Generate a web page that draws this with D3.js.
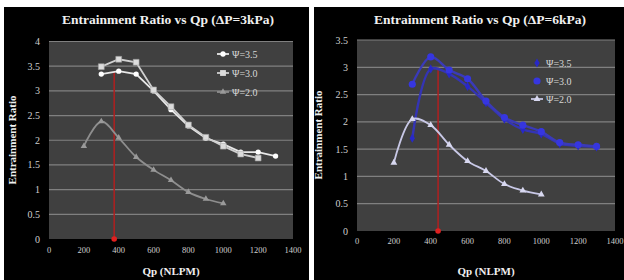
<!DOCTYPE html>
<html>
<head>
<meta charset="utf-8">
<script src="https://cdn.jsdelivr.net/npm/d3@7"></script>
<style>
  body { margin: 0; background: #fff; }
  svg { display: block; }
</style>
</head>
<body>
<svg id="chart" width="624" height="280"></svg>
<script>
// Qp values (NLPM)
const qpHigh = [300, 400, 500, 600, 700, 800, 900, 1000, 1100, 1200, 1300];
const qpLow = [200, 300, 400, 500, 600, 700, 800, 900, 1000];

// dP = 3 kPa
const left35 = [3.34, 3.40, 3.34, 3.00, 2.62, 2.29, 2.04, 1.92, 1.76, 1.76, 1.68];
const left30 = [3.49, 3.64, 3.58, 3.02, 2.68, 2.31, 2.06, 1.88, 1.72, 1.64];
const left20 = [1.88, 2.38, 2.05, 1.66, 1.40, 1.19, 0.95, 0.81, 0.72];

// dP = 6 kPa
const right35 = [1.70, 2.97, 2.88, 2.65, 2.35, 2.05, 1.86, 1.78, 1.60, 1.56, 1.54];
const right30 = [2.69, 3.19, 2.95, 2.79, 2.38, 2.08, 1.94, 1.82, 1.62, 1.58, 1.55];
const right20 = [1.25, 2.05, 1.94, 1.58, 1.28, 1.10, 0.86, 0.74, 0.67];

const xTicks = [0, 200, 400, 600, 800, 1000, 1200, 1400];
const yTicksLeft = [0, 0.5, 1, 1.5, 2, 2.5, 3, 3.5, 4];
const yTicksRight = [0, 0.5, 1, 1.5, 2, 2.5, 3, 3.5];
const legendLabels = ["\u03A8=3.5", "\u03A8=3.0", "\u03A8=2.0"];

// red marker lines [Qp, value]
const markLeft = [374, 3.40];
const markRight = [440, 2.99];

const svg = d3.select("#chart");
const serif = "'Liberation Serif', 'DejaVu Serif', serif";

function drawChart(cfg) {
  const g = svg.append("g");

  // black panel
  g.append("rect")
    .attr("x", cfg.panel[0]).attr("y", cfg.panel[1])
    .attr("width", cfg.panel[2]).attr("height", cfg.panel[3])
    .attr("fill", "#000");

  const x = d3.scaleLinear().domain([0, 1400]).range([cfg.plot.x0, cfg.plot.x1]);
  const y = d3.scaleLinear().domain([0, cfg.yMax]).range([cfg.plot.y0, cfg.plot.y1]);

  // plot area
  g.append("rect")
    .attr("x", x(0)).attr("y", y(cfg.yMax))
    .attr("width", x(1400) - x(0)).attr("height", y(0) - y(cfg.yMax))
    .attr("fill", "#404040");

  // gridlines
  g.selectAll(".grid").data(cfg.yTicks.filter(d => d > 0)).enter()
    .append("line")
    .attr("x1", x(0)).attr("x2", x(1400))
    .attr("y1", d => y(d)).attr("y2", d => y(d))
    .attr("stroke", "#808080").attr("stroke-width", 1.2);

  // y tick labels
  g.selectAll(".yl").data(cfg.yTicks).enter()
    .append("text")
    .attr("x", x(0) - 9).attr("y", d => y(d) + 3.5)
    .attr("text-anchor", "end")
    .attr("font-family", serif).attr("font-size", 10)
    .attr("fill", "#cfcfcf")
    .text(d => d);

  // x tick labels
  g.selectAll(".xl").data(xTicks).enter()
    .append("text")
    .attr("x", d => x(d)).attr("y", y(0) + cfg.xLabelDy)
    .attr("text-anchor", "middle")
    .attr("font-family", serif).attr("font-size", 8.5)
    .attr("fill", "#cfcfcf")
    .text(d => d);

  // titles
  g.append("text")
    .attr("x", cfg.titleX).attr("y", 24)
    .attr("text-anchor", "middle")
    .attr("font-family", serif).attr("font-weight", "bold").attr("font-size", 13.5)
    .attr("fill", "#f0f0f0")
    .text(cfg.title);

  g.append("text")
    .attr("x", (x(0) + x(1400)) / 2).attr("y", 275)
    .attr("text-anchor", "middle")
    .attr("font-family", serif).attr("font-weight", "bold").attr("font-size", 11)
    .attr("fill", "#f0f0f0")
    .text("Qp (NLPM)");

  g.append("text")
    .attr("transform", `translate(${cfg.yTitleX},${cfg.yTitleY}) rotate(-90)`)
    .attr("text-anchor", "middle")
    .attr("font-family", serif).attr("font-weight", "bold").attr("font-size", 11)
    .attr("fill", "#f0f0f0")
    .text("Entrainment Ratio");

  // red marker line
  g.append("line")
    .attr("x1", x(cfg.mark[0])).attr("x2", x(cfg.mark[0]))
    .attr("y1", y(0)).attr("y2", y(cfg.mark[1]))
    .attr("stroke", "#b02020").attr("stroke-width", 1.5);
  g.append("circle")
    .attr("cx", x(cfg.mark[0])).attr("cy", y(0)).attr("r", 2.8)
    .attr("fill", "#e02020");

  // series
  cfg.series.forEach(s => {
    const pts = s.values.map((v, i) => [s.qp[i], v]);
    const line = d3.line()
      .x(d => x(d[0])).y(d => y(d[1]))
      .curve(s.smooth ? d3.curveCatmullRom.alpha(0.5) : d3.curveLinear);
    g.append("path")
      .datum(pts)
      .attr("d", line)
      .attr("fill", "none")
      .attr("stroke", s.color).attr("stroke-width", s.width || 1.8);
    g.selectAll(null).data(pts).enter()
      .append("path")
      .attr("transform", d => `translate(${x(d[0])},${y(d[1])})`)
      .attr("d", d3.symbol().type(s.symbol).size(s.size))
      .attr("fill", s.markerFill)
      .attr("stroke", s.markerStroke || "none").attr("stroke-width", 0.6);
  });

  // legend
  cfg.series.forEach((s, i) => {
    const ly = cfg.legend.y + i * cfg.legend.dy;
    const lx = cfg.legend.x;
    if (s.legendLine) {
      g.append("line")
        .attr("x1", lx - 6).attr("x2", lx + 6)
        .attr("y1", ly).attr("y2", ly)
        .attr("stroke", s.color).attr("stroke-width", 1.8);
    }
    g.append("path")
      .attr("transform", `translate(${lx},${ly})`)
      .attr("d", d3.symbol().type(s.symbol).size(s.size))
      .attr("fill", s.markerFill);
    g.append("text")
      .attr("x", lx + 9).attr("y", ly + 3.5)
      .attr("font-family", serif).attr("font-size", 10)
      .attr("fill", "#d8d8d8")
      .text(legendLabels[i]);
  });
}

drawChart({
  panel: [4, 7, 305, 273],
  plot: { x0: 49, x1: 293, y0: 239, y1: 41.5 },
  yMax: 4,
  yTicks: yTicksLeft,
  xLabelDy: 14,
  title: "Entrainment Ratio vs Qp  (\u0394P=3kPa)",
  titleX: 168,
  yTitleX: 16, yTitleY: 140,
  mark: markLeft,
  legend: { x: 223, y: 54, dy: 19 },
  series: [
    { qp: qpHigh, values: left35, color: "#e8e8e8", symbol: d3.symbolCircle, size: 22,
      markerFill: "#ffffff", legendLine: true },
    { qp: qpHigh.slice(0, left30.length), values: left30, color: "#d0d0d0", symbol: d3.symbolSquare, size: 34,
      markerFill: "#dcdcdc", markerStroke: "#a0a0a0", legendLine: true },
    { qp: qpLow, values: left20, color: "#8e8e8e", symbol: d3.symbolTriangle, size: 18,
      markerFill: "#9a9a9a", smooth: true, legendLine: true }
  ]
});

drawChart({
  panel: [314, 7, 310, 273],
  plot: { x0: 357, x1: 615, y0: 231, y1: 40 },
  yMax: 3.5,
  yTicks: yTicksRight,
  xLabelDy: 13,
  title: "Entrainment Ratio vs Qp  (\u0394P=6kPa)",
  titleX: 480,
  yTitleX: 322, yTitleY: 135,
  mark: markRight,
  legend: { x: 537, y: 63, dy: 18 },
  series: [
    { qp: qpHigh, values: right35, color: "#3434b4", symbol: d3.symbolDiamond, size: 24,
      markerFill: "#2828c8", smooth: true, width: 2.4, legendLine: false },
    { qp: qpHigh, values: right30, color: "#3a3ab8", symbol: d3.symbolCircle, size: 40,
      markerFill: "#3636e0", smooth: true, width: 2.4, legendLine: false },
    { qp: qpLow, values: right20, color: "#c8c8e6", symbol: d3.symbolTriangle, size: 20,
      markerFill: "#d8d8f0", smooth: true, legendLine: true }
  ]
});
</script>
</body>
</html>
